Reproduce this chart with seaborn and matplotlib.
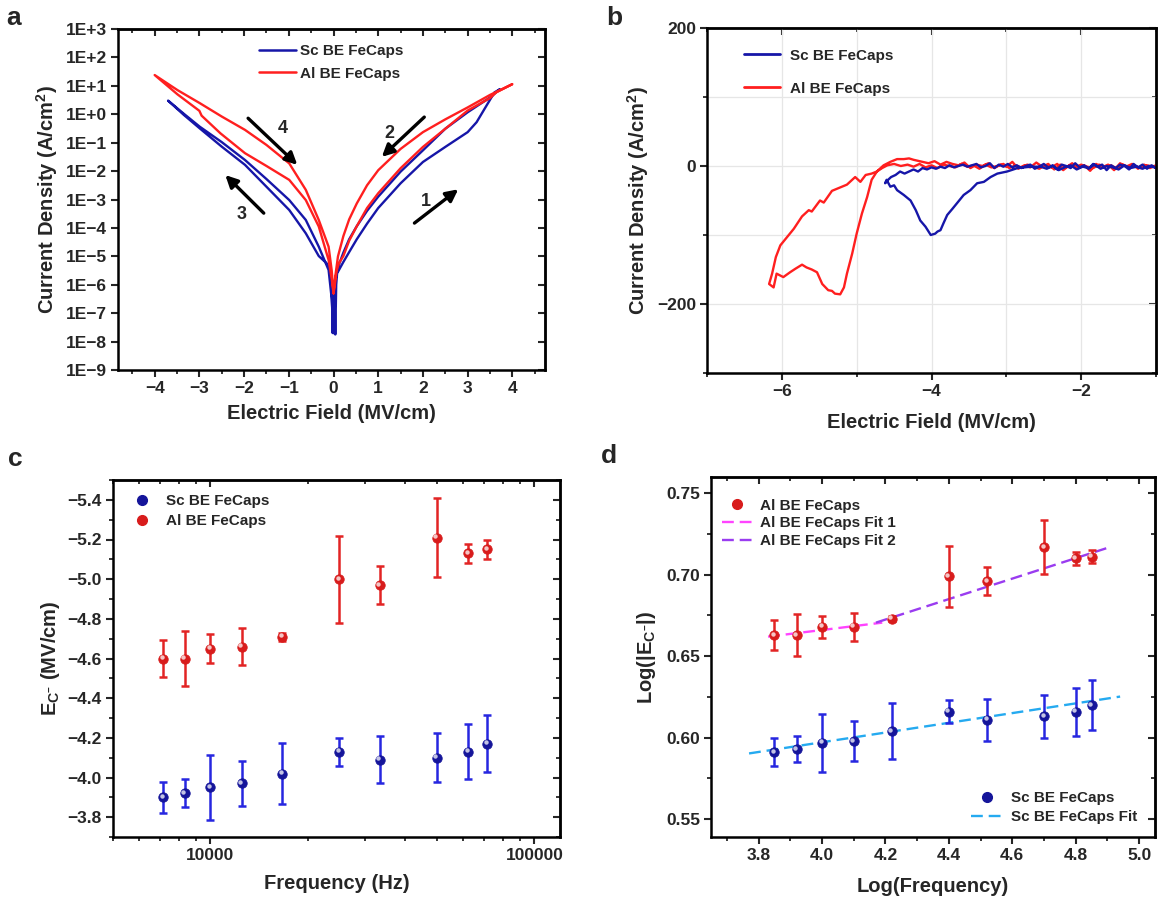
import numpy as np
import matplotlib
matplotlib.use("Agg")
import matplotlib.pyplot as plt
import matplotlib.ticker as mt
from matplotlib.lines import Line2D
from matplotlib.transforms import ScaledTranslation
import seaborn as sns

# ---------------- data ----------------
# panel a: leakage loops (field in MV/cm, log10 of current density in A/cm^2)
sc_a_field = [0.00, 0.02, 0.04, 0.06, 0.08, 0.15, 0.22, 0.35, 0.52, 0.75, 1.00, 1.50, 2.00, 2.50, 3.00, 3.20, 3.42, 3.60, 3.72,
              3.50, 3.00, 2.50, 2.00, 1.50, 1.00, 0.75, 0.52, 0.35, 0.22, 0.12, 0.07, 0.04, 0.02, 0.00, -0.02,
              -0.04, -0.07, -0.15, -0.33, -0.62, -0.99, -1.50, -1.98, -2.50, -2.99, -3.35, -3.70,
              -3.35, -2.99, -2.50, -1.98, -1.50, -0.99, -0.62, -0.33, -0.11, -0.04, 0.00]
sc_a_logj = [-7.70, -6.10, -7.75, -6.00, -5.60, -5.40, -5.20, -4.85, -4.40, -3.85, -3.30, -2.43, -1.68, -1.15, -0.63, -0.28, 0.30, 0.77, 0.88,
             0.59, 0.07, -0.51, -1.27, -2.02, -2.90, -3.40, -3.94, -4.40, -4.87, -5.30, -5.60, -5.85, -7.60, -6.20, -7.70,
             -6.00, -5.48, -5.25, -4.99, -4.19, -3.37, -2.55, -1.78, -1.14, -0.50, -0.02, 0.48,
             0.02, -0.44, -0.98, -1.61, -2.28, -3.02, -3.72, -4.66, -5.48, -6.50, -7.70]
al_a_field = [0.00, 0.03, 0.07, 0.12, 0.22, 0.35, 0.52, 0.75, 1.00, 1.50, 2.00, 2.50, 3.00, 3.50, 3.64, 4.00,
              3.50, 3.00, 2.50, 2.00, 1.50, 1.00, 0.75, 0.52, 0.35, 0.22, 0.10, 0.04, 0.00,
              -0.04, -0.11, -0.33, -0.62, -0.99, -1.50, -1.98, -2.53, -2.95, -3.00, -3.05, -3.49, -4.00,
              -3.49, -2.99, -2.50, -1.98, -1.50, -0.99, -0.62, -0.33, -0.11, -0.04, 0.00]
al_a_logj = [-6.30, -6.00, -5.50, -5.25, -4.99, -4.45, -3.94, -3.30, -2.78, -1.90, -1.15, -0.51, 0.13, 0.57, 0.77, 1.06,
             0.68, 0.24, -0.18, -0.63, -1.22, -1.97, -2.50, -3.14, -3.70, -4.29, -5.00, -5.70, -6.30,
             -5.80, -5.13, -3.95, -3.02, -2.31, -1.82, -1.37, -0.67, -0.05, 0.12, 0.18, 0.70, 1.38,
             0.85, 0.39, -0.08, -0.55, -1.08, -1.73, -2.66, -3.72, -4.66, -5.50, -6.30]
# arrows of panel a: start field, start log10 J, end field, end log10 J, label field, label log10 J
arrow_names = ["1", "2", "3", "4"]
arrow_x0 = [1.81, 2.03, -1.56, -1.91]
arrow_y0 = [-3.83, -0.10, -3.48, -0.14]
arrow_x1 = [2.79, 1.08, -2.42, -0.81]
arrow_y1 = [-2.64, -1.50, -2.14, -1.78]
arrow_lx = [2.06, 1.25, -2.05, -1.14]
arrow_ly = [-3.07, -0.66, -3.54, -0.50]

# panel b: negative field branch (MV/cm) vs current density (A/cm^2)
al_b_field = [-1.00, -1.08, -1.16, -1.24, -1.32, -1.40, -1.48, -1.56, -1.64, -1.72, -1.80, -1.88, -1.96, -2.04, -2.12,
              -2.20, -2.28, -2.36, -2.44, -2.52, -2.60, -2.68, -2.76, -2.84, -2.92, -3.00, -3.08, -3.16, -3.24, -3.32,
              -3.40, -3.48, -3.56, -3.64, -3.72, -3.80, -3.88, -3.96, -4.04, -4.12, -4.20,
              -4.24, -4.30, -4.37, -4.46, -4.55, -4.64, -4.73, -4.80, -4.86, -4.93, -5.00, -5.06, -5.13, -5.17, -5.22,
              -5.29, -5.33, -5.38, -5.46, -5.53, -5.60, -5.67, -5.73, -5.82, -5.89, -5.98, -6.07, -6.11, -6.17,
              -6.13, -6.08, -6.02, -5.93, -5.84, -5.73, -5.64, -5.60, -5.49, -5.44, -5.33, -5.22, -5.13, -5.06, -5.02,
              -4.95, -4.88, -4.80, -4.73, -4.66, -4.59, -4.50, -4.41,
              -4.32, -4.24, -4.16, -4.08, -4.00, -3.92, -3.84, -3.76, -3.68, -3.60, -3.52, -3.44, -3.36, -3.28, -3.20,
              -3.12, -3.04, -2.96, -2.88, -2.80, -2.72, -2.64, -2.56, -2.48, -2.40, -2.32, -2.24, -2.16, -2.08, -2.00,
              -1.92, -1.84, -1.76, -1.68, -1.60, -1.52, -1.44, -1.36, -1.28, -1.20, -1.12, -1.04]
al_b_j = [1, -3, 2, -4, 3, -1, 4, -6, 2, -2, 3, -7, 1, -3, 4,
          -2, 2, -5, 3, -1, 5, -2, 1, -4, 6, -1, 2, -3, 4, 0,
          2, -3, 5, 1, 3, 6, 2, 7, 4, 6, 8,
          9, 11, 10, 10, 6, 1, -8, -20, -45, -69, -98, -127, -156, -176, -186,
          -185, -181, -180, -171, -154, -150, -147, -143, -149, -154, -161, -156, -176, -171,
          -156, -132, -115, -103, -91, -73, -64, -66, -50, -53, -36, -31, -27, -20, -16,
          -23, -13, -11, -8, -3, 1, 3, 0,
          2, -1, 3, -2, 1, -3, 2, 0, -2, 3, -1, 1, -4, 2, -2,
          0, 3, -3, 1, -2, 2, -1, -4, 1, -2, 3, -6, 1, -2, 2,
          -1, -3, 2, -1, 1, -4, 2, -2, 0, -3, 1, -1]
sc_b_field = [-1.00, -1.06, -1.12, -1.18, -1.24, -1.30, -1.36, -1.42, -1.48, -1.54, -1.60, -1.66, -1.72, -1.78, -1.84,
              -1.90, -1.96, -2.02, -2.08, -2.14, -2.20, -2.26, -2.32, -2.38, -2.44, -2.50, -2.56, -2.62, -2.68, -2.74,
              -2.80, -2.86, -2.92, -2.98, -3.04, -3.10, -3.16, -3.22, -3.28, -3.34, -3.40, -3.46, -3.52, -3.58, -3.64,
              -3.70, -3.76, -3.82, -3.88, -3.94, -4.00, -4.06, -4.12, -4.18, -4.24, -4.30, -4.36, -4.42, -4.48, -4.54,
              -4.58, -4.62,
              -4.60, -4.55, -4.50, -4.46, -4.37, -4.28, -4.21, -4.15, -4.08, -4.01, -3.95, -3.92, -3.88, -3.84, -3.79,
              -3.72, -3.66, -3.57, -3.48, -3.39, -3.30, -3.21, -3.12, -2.99, -2.85, -2.67, -2.54,
              -2.46, -2.38, -2.30, -2.22, -2.14, -2.06, -1.98, -1.90, -1.82, -1.74, -1.66, -1.58, -1.50, -1.42, -1.34,
              -1.26, -1.18, -1.10, -1.02]
sc_b_j = [-3, 1, -4, 2, -2, 3, -5, 0, 2, -3, 1, -6, 2, -1, 3,
          -4, 1, -2, 4, -3, 0, 2, -5, 1, -2, 3, -1, -4, 2, 0,
          -3, 1, -2, 3, -1, 2, -3, 4, 0, -2, 3, 1, -1, 2, 0,
          -2, 1, -3, -1, -4, -2, -5, -3, -8, -5, -8, -11, -8, -13, -16,
          -20, -25,
          -20, -30, -28, -35, -42, -50, -64, -79, -88, -100, -98, -95, -93, -83, -71,
          -62, -54, -42, -35, -25, -23, -16, -11, -8, -3, -1, -1,
          -4, 0, -6, -2, 1, -5, -1, -3, 2, -4, 0, -2, -5, 1, -3,
          -1, -4, 0, -2]

# panel c: coercive field vs frequency
freq_hz = [7143, 8333, 10000, 12500, 16667, 25000, 33333, 50000, 62500, 71429]
sc_ec = [-3.90, -3.92, -3.95, -3.97, -4.02, -4.13, -4.09, -4.10, -4.13, -4.17]
sc_ec_err = [0.078, 0.070, 0.165, 0.115, 0.155, 0.070, 0.120, 0.125, 0.140, 0.143]
al_ec = [-4.60, -4.60, -4.65, -4.66, -4.71, -5.00, -4.97, -5.21, -5.13, -5.15]
al_ec_err = [0.095, 0.137, 0.072, 0.095, 0.020, 0.220, 0.095, 0.200, 0.047, 0.047]

# panel d: log-log representation with fits
log_freq = [3.85, 3.92, 4.00, 4.10, 4.22, 4.40, 4.52, 4.70, 4.80, 4.85]
al_log_ec = [0.663, 0.663, 0.668, 0.668, 0.673, 0.699, 0.696, 0.717, 0.710, 0.711]
al_log_err = [0.0090, 0.0128, 0.0066, 0.0086, 0.0015, 0.0185, 0.0085, 0.0164, 0.0038, 0.0041]
sc_log_ec = [0.591, 0.593, 0.597, 0.598, 0.604, 0.616, 0.611, 0.613, 0.616, 0.620]
sc_log_err = [0.0087, 0.0077, 0.0178, 0.0125, 0.0171, 0.0072, 0.0130, 0.0131, 0.0147, 0.0153]
al_fit1_x = [3.83, 4.19]
al_fit1_y = [0.662, 0.6706]
al_fit2_x = [4.17, 4.91]
al_fit2_y = [0.6706, 0.7171]
sc_fit_x = [3.77, 4.94]
sc_fit_y = [0.5903, 0.6252]

# ---------------- style ----------------
sns.set_theme(style="ticks")
plt.rcParams["font.family"] = ["Liberation Sans", "DejaVu Sans"]
plt.rcParams["font.weight"] = "bold"
plt.rcParams["axes.labelweight"] = "bold"
plt.rcParams["mathtext.fontset"] = "custom"
plt.rcParams["mathtext.rm"] = "Liberation Sans:bold"
plt.rcParams["mathtext.bf"] = "Liberation Sans:bold"
plt.rcParams["mathtext.it"] = "Liberation Sans:bold"

BLUE = "#1616a8"
RED = "#ff1f1f"
EB_BLUE = "#2626e0"
EB_RED = "#e22424"
MK_BLUE = "#15159a"
MK_RED = "#d81c1c"
TICK_FS = 12.5
LAB_FS = 14.5
LEG_FS = 11

W, H = 1158, 907
fig = plt.figure(figsize=(W / 100, H / 100), dpi=100)


def axes_px(x0, y0, x1, y1):
    return fig.add_axes([x0 / W, 1 - y1 / H, (x1 - x0) / W, (y1 - y0) / H])


axA = axes_px(118, 29, 545, 370)
axB = axes_px(707, 28, 1156, 373)
axC = axes_px(113, 480, 560, 837)
axD = axes_px(711, 477, 1155, 837)


def style_axes(ax):
    for s in ax.spines.values():
        s.set_linewidth(1.8)
        s.set_color("black")
    ax.tick_params(which="major", direction="out", length=5, width=1.5, labelsize=TICK_FS, pad=3,
                   top=False, right=False)
    ax.tick_params(which="minor", direction="out", length=3, width=1.3, top=False, right=False)


def mirror(ax, xmaj, xmin, ymaj, ymin):
    t = ax.secondary_xaxis("top")
    t.set_xticks(xmaj)
    t.set_xticks(xmin, minor=True)
    t.tick_params(which="major", direction="in", length=5, width=1.5, labeltop=False)
    t.tick_params(which="minor", direction="in", length=3, width=1.3)
    t.spines["top"].set_linewidth(1.8)
    r = ax.secondary_yaxis("right")
    r.set_yticks(ymaj)
    r.set_yticks(ymin, minor=True)
    r.tick_params(which="major", direction="in", length=5, width=1.5, labelright=False)
    r.tick_params(which="minor", direction="in", length=3, width=1.3)
    r.spines["right"].set_linewidth(1.8)
    return t, r


def minus(v, fmt):
    return (fmt % v).replace("-", "\u2212")


# ---------------- panel a ----------------
axA.set_yscale("log")
sns.lineplot(x=sc_a_field, y=np.power(10.0, sc_a_logj), sort=False, estimator=None, color=BLUE, lw=1.7, ax=axA)
sns.lineplot(x=al_a_field, y=np.power(10.0, al_a_logj), sort=False, estimator=None, color=RED, lw=1.7, ax=axA)
axA.set_xlim(-4.82, 4.73)
axA.set_ylim(1e-9, 1e3)
style_axes(axA)
dec = list(range(-9, 4))
ymajA = [10.0 ** k for k in dec]
ylabA = [("1E+%d" % k) if k >= 0 else ("1E\u2212%d" % -k) for k in dec]
axA.set_yticks(ymajA, labels=ylabA)
axA.yaxis.set_minor_locator(mt.NullLocator())
xmajA = list(range(-4, 5))
xminA = [v + 0.5 for v in range(-5, 5)]
axA.set_xticks(xmajA, labels=[minus(v, "%d") for v in xmajA])
axA.set_xticks(xminA, minor=True)
tA, rA = mirror(axA, xmajA, xminA, ymajA, [])
rA.yaxis.set_minor_locator(mt.NullLocator())
axA.set_xlabel("Electric Field (MV/cm)", fontsize=LAB_FS, labelpad=6)
axA.set_ylabel("Current Density (A/cm$^\\mathbf{2}$)", fontsize=LAB_FS, labelpad=4)
for n, x0, y0, x1, y1, lx, ly in zip(arrow_names, arrow_x0, arrow_y0, arrow_x1, arrow_y1, arrow_lx, arrow_ly):
    axA.annotate("", xy=(x1, 10.0 ** y1), xytext=(x0, 10.0 ** y0),
                 arrowprops=dict(arrowstyle="-|>,head_length=0.6,head_width=0.3", color="black", lw=2.4,
                                 shrinkA=0, shrinkB=0))
    axA.text(lx, 10.0 ** ly, n, fontsize=13, fontweight="bold", ha="center", va="center")
hA = [Line2D([], [], color=BLUE, lw=1.8), Line2D([], [], color=RED, lw=1.8)]
axA.legend(hA, ["Sc BE FeCaps", "Al BE FeCaps"], loc="upper left", bbox_to_anchor=(0.33, 0.955),
           frameon=False, fontsize=LEG_FS, borderpad=0, borderaxespad=0, handlelength=2.4,
           handletextpad=0.3, labelspacing=0.55)

# ---------------- panel b ----------------
axB.set_axisbelow(True)
sns.lineplot(x=al_b_field, y=al_b_j, sort=False, estimator=None, color=RED, lw=1.7, ax=axB)
sns.lineplot(x=sc_b_field, y=sc_b_j, sort=False, estimator=None, color=BLUE, lw=1.7, ax=axB)
axB.set_xlim(-7, -1)
axB.set_ylim(-300, 200)
style_axes(axB)
xmajB = [-6, -4, -2]
xminB = [-7, -5, -3, -1]
ymajB = [-200, 0, 200]
yminB = [-300, -100, 100]
axB.set_xticks(xmajB, labels=[minus(v, "%d") for v in xmajB])
axB.set_xticks(xminB, minor=True)
axB.set_yticks(ymajB, labels=[minus(v, "%d") for v in ymajB])
axB.set_yticks(yminB, minor=True)
axB.grid(which="both", color="#e6e6e6", lw=0.9)
mirror(axB, xmajB, xminB, ymajB, yminB)
axB.set_xlabel("Electric Field (MV/cm)", fontsize=LAB_FS, labelpad=10)
axB.set_ylabel("Current Density (A/cm$^\\mathbf{2}$)", fontsize=LAB_FS, labelpad=4)
hB = [Line2D([], [], color=BLUE, lw=2.0), Line2D([], [], color=RED, lw=2.0)]
axB.legend(hB, ["Sc BE FeCaps", "Al BE FeCaps"], loc="upper left", bbox_to_anchor=(0.082, 0.94),
           frameon=False, fontsize=LEG_FS, borderpad=0, borderaxespad=0, handlelength=2.4,
           handletextpad=0.6, labelspacing=1.25)


# ---------------- sphere markers ----------------
def spheres(ax, x, y, color, s=46):
    sns.scatterplot(x=x, y=y, color=color, s=s, edgecolor=color, linewidth=0.6, zorder=4, ax=ax, legend=False)
    off = ScaledTranslation(-1.0 / 72, 1.0 / 72, fig.dpi_scale_trans)
    ax.scatter(x, y, s=s * 0.22, color="white", alpha=0.75, linewidths=0, zorder=5,
               transform=ax.transData + off)


def err(ax, x, y, e, color):
    ax.errorbar(x, y, yerr=e, fmt="none", ecolor=color, elinewidth=1.8, capsize=3.2, capthick=1.8, zorder=3)


# ---------------- panel c ----------------
axC.set_xscale("log")
err(axC, freq_hz, sc_ec, sc_ec_err, EB_BLUE)
err(axC, freq_hz, al_ec, al_ec_err, EB_RED)
spheres(axC, freq_hz, sc_ec, MK_BLUE)
spheres(axC, freq_hz, al_ec, MK_RED)
axC.set_xlim(5000, 120000)
axC.set_ylim(-3.7, -5.5)
style_axes(axC)
xmajC = [1e4, 1e5]
xminC = [k * 1000 for k in range(5, 10)] + [k * 10000 for k in range(2, 10)]
axC.set_xticks(xmajC, labels=["10000", "100000"])
axC.set_xticks(xminC, minor=True)
axC.xaxis.set_minor_formatter(mt.NullFormatter())
ymajC = [-5.4, -5.2, -5.0, -4.8, -4.6, -4.4, -4.2, -4.0, -3.8]
yminC = [-5.5, -5.3, -5.1, -4.9, -4.7, -4.5, -4.3, -4.1, -3.9, -3.7]
axC.set_yticks(ymajC, labels=[minus(v, "%.1f") for v in ymajC])
axC.set_yticks(yminC, minor=True)
mirror(axC, xmajC, xminC, ymajC, yminC)
axC.set_xlabel("Frequency (Hz)", fontsize=LAB_FS, labelpad=8)
axC.set_ylabel("E$_{\\mathbf{C^{-}}}$ (MV/cm)", fontsize=LAB_FS, labelpad=4)
hC = [Line2D([], [], ls="none", marker="o", ms=7, color=MK_BLUE),
      Line2D([], [], ls="none", marker="o", ms=7, color=MK_RED)]
axC.legend(hC, ["Sc BE FeCaps", "Al BE FeCaps"], loc="upper left", bbox_to_anchor=(0.048, 0.96),
           frameon=False, fontsize=LEG_FS, borderpad=0, borderaxespad=0, handlelength=1.0,
           handletextpad=1.05, labelspacing=0.4)

# ---------------- panel d ----------------
DASH = (0, (5, 2.5))
sns.lineplot(x=al_fit1_x, y=al_fit1_y, color="#ff44ff", lw=1.7, linestyle=DASH, ax=axD)
sns.lineplot(x=al_fit2_x, y=al_fit2_y, color="#9a3cf0", lw=1.7, linestyle=DASH, ax=axD)
sns.lineplot(x=sc_fit_x, y=sc_fit_y, color="#25aaf0", lw=1.7, linestyle=DASH, ax=axD)
err(axD, log_freq, al_log_ec, al_log_err, EB_RED)
err(axD, log_freq, sc_log_ec, sc_log_err, EB_BLUE)
spheres(axD, log_freq, al_log_ec, MK_RED)
spheres(axD, log_freq, sc_log_ec, MK_BLUE)
axD.set_xlim(3.65, 5.05)
axD.set_ylim(0.539, 0.760)
style_axes(axD)
xmajD = [3.8, 4.0, 4.2, 4.4, 4.6, 4.8, 5.0]
xminD = [3.7, 3.9, 4.1, 4.3, 4.5, 4.7, 4.9]
ymajD = [0.55, 0.60, 0.65, 0.70, 0.75]
yminD = [0.575, 0.625, 0.675, 0.725]
axD.set_xticks(xmajD, labels=["%.1f" % v for v in xmajD])
axD.set_xticks(xminD, minor=True)
axD.set_yticks(ymajD, labels=["%.2f" % v for v in ymajD])
axD.set_yticks(yminD, minor=True)
mirror(axD, xmajD, xminD, ymajD, yminD)
axD.set_xlabel("Log(Frequency)", fontsize=LAB_FS, labelpad=10)
axD.set_ylabel("Log(|E$_{\\mathbf{C^{-}}}$|)", fontsize=LAB_FS, labelpad=6)
hD1 = [Line2D([], [], ls="none", marker="o", ms=7, color=MK_RED),
       Line2D([], [], color="#ff44ff", lw=1.7, ls=DASH),
       Line2D([], [], color="#9a3cf0", lw=1.7, ls=DASH)]
legD1 = axD.legend(hD1, ["Al BE FeCaps", "Al BE FeCaps Fit 1", "Al BE FeCaps Fit 2"], loc="upper left",
                   bbox_to_anchor=(0.025, 0.94), frameon=False, fontsize=LEG_FS, borderpad=0, borderaxespad=0,
                   handlelength=2.0, handletextpad=0.5, labelspacing=0.25)
axD.add_artist(legD1)
hD2 = [Line2D([], [], ls="none", marker="o", ms=7, color=MK_BLUE),
       Line2D([], [], color="#25aaf0", lw=1.7, ls=DASH)]
axD.legend(hD2, ["Sc BE FeCaps", "Sc BE FeCaps Fit"], loc="lower right", bbox_to_anchor=(0.96, 0.035),
           frameon=False, fontsize=LEG_FS, borderpad=0, borderaxespad=0, handlelength=2.0,
           handletextpad=0.6, labelspacing=0.35)

# ---------------- panel letters ----------------
for letter, px, py in [("a", 6, 25), ("b", 606, 25), ("c", 8, 466), ("d", 601, 463)]:
    fig.text(px / W, 1 - py / H, letter, fontsize=19, fontweight="bold", ha="left", va="baseline")

fig.savefig("out.png", dpi=100)
